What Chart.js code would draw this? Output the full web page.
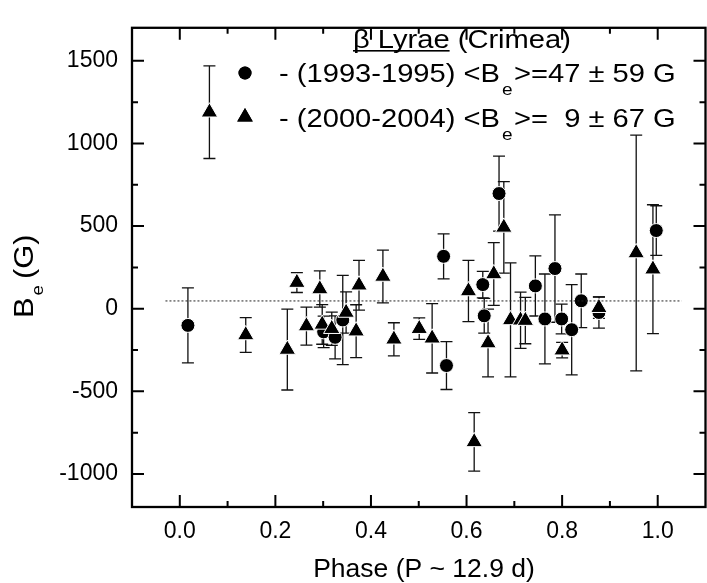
<!DOCTYPE html>
<html>
<head>
<meta charset="utf-8">
<script src="https://cdn.jsdelivr.net/npm/chart.js@4.4.0/dist/chart.umd.min.js"></script>
<style>
  html, body { margin: 0; padding: 0; background: #fff; overflow: hidden; }
  #wrap { width: 716px; height: 583px; }
</style>
</head>
<body>
<div id="wrap"><canvas id="chart" width="716" height="583"></canvas></div>
<script>
// 1993-1995 observations (circles)
const phaseA = [0.017, 0.301, 0.325, 0.341, 0.552, 0.558, 0.634, 0.637, 0.668, 0.744, 0.764, 0.785, 0.799, 0.820, 0.840, 0.877, 0.997];
const beA    = [-101, -140, -173, -68, 317, -344, 146, -43, 697, 138, -62, 243, -62, -127, 48, -23, 473];
const errA   = [227, 95, 130, 270, 136, 145, 80, 105, 227, 182, 272, 325, 90, 273, 162, 95, 150];

// 2000-2004 observations (triangles)
const phaseB = [0.062, 0.138, 0.225, 0.245, 0.265, 0.293, 0.298, 0.318, 0.348, 0.369, 0.375, 0.425, 0.448, 0.501, 0.528, 0.604, 0.616, 0.645, 0.657, 0.678, 0.692, 0.713, 0.723, 0.800, 0.877, 0.955, 0.990];
const beB    = [1189, -159, -247, 158, -105, 119, -95, -121, -23, -136, 142, 195, -185, -121, -179, 107, -806, -208, 210, 492, -68, -70, -72, -251, 6, 337, 239];
const errB   = [280, 105, 245, 60, 115, 110, 120, 100, 125, 160, 150, 160, 100, 65, 210, 185, 177, 205, 190, 277, 345, 170, 140, 47, 65, 713, 390];

// mean field of 1993-1995 set (dotted line)
const meanBe = 47;
const meanPhase = [-0.03, 1.05];

const xTicks = [0, 0.2, 0.4, 0.6, 0.8, 1.0];
const xMinor = [0.1, 0.3, 0.5, 0.7, 0.9];
const yTicks = [-1000, -500, 0, 500, 1000, 1500];
const yMinor = [-750, -250, 250, 750, 1250];

const legendTitle = ['β Lyrae', ' (Crimea)'];
const legendRows = [
  { pre: '- (1993-1995) <B', post: '>=47 ± 59 G', style: 'circle' },
  { pre: '- (2000-2004) <B', post: '>=  9 ± 67 G', style: 'triangle' }
];

const FONT = "'Liberation Sans', Arial, sans-serif";

const toPoints = (xs, ys) => xs.map((x, i) => ({ x, y: ys[i] }));

function drawText(ctx, str, x, y, size, sx) {
  ctx.save();
  ctx.font = size + 'px ' + FONT;
  ctx.translate(x, y);
  ctx.scale(sx, 1);
  ctx.fillText(str, 0, 0);
  const w = ctx.measureText(str).width * sx;
  ctx.restore();
  return w;
}

const errorBars = {
  id: 'errorBars',
  beforeDatasetsDraw(chart) {
    const { ctx, scales: { x, y } } = chart;
    ctx.save();
    ctx.strokeStyle = '#111';
    ctx.lineWidth = 1.3;
    chart.data.datasets.forEach(ds => {
      if (!ds.errors) return;
      ds.data.forEach((p, i) => {
        const px = x.getPixelForValue(p.x);
        const top = y.getPixelForValue(p.y + ds.errors[i]);
        const bot = y.getPixelForValue(p.y - ds.errors[i]);
        ctx.beginPath();
        ctx.moveTo(px, top); ctx.lineTo(px, bot);
        ctx.moveTo(px - 6, top); ctx.lineTo(px + 6, top);
        ctx.moveTo(px - 6, bot); ctx.lineTo(px + 6, bot);
        ctx.stroke();
      });
    });
    ctx.restore();
  }
};

const frame = {
  id: 'frame',
  afterDatasetsDraw(chart) {
    const { ctx, chartArea: a, scales: { x, y } } = chart;
    ctx.save();
    ctx.strokeStyle = '#000';
    ctx.lineWidth = 2.3;
    ctx.strokeRect(a.left, a.top, a.right - a.left, a.bottom - a.top);
    ctx.lineWidth = 2;
    ctx.beginPath();
    const xt = (vals, len) => vals.forEach(v => {
      const px = x.getPixelForValue(v);
      ctx.moveTo(px, a.bottom); ctx.lineTo(px, a.bottom - len);
      ctx.moveTo(px, a.top); ctx.lineTo(px, a.top + len);
    });
    const yt = (vals, len) => vals.forEach(v => {
      const py = y.getPixelForValue(v);
      ctx.moveTo(a.left, py); ctx.lineTo(a.left + len, py);
      ctx.moveTo(a.right, py); ctx.lineTo(a.right - len, py);
    });
    xt(xTicks, 12); xt(xMinor, 6);
    yt(yTicks, 12); yt(yMinor, 6);
    ctx.stroke();
    ctx.restore();
  }
};

const labels = {
  id: 'labels',
  afterDraw(chart) {
    const { ctx } = chart;
    ctx.save();
    ctx.fillStyle = '#000';
    ctx.textBaseline = 'alphabetic';

    // x axis title
    ctx.font = '25px ' + FONT;
    const xt = 'Phase (P ~ 12.9 d)';
    const xw = ctx.measureText(xt).width * 1.06;
    drawText(ctx, xt, 424 - xw / 2, 577, 25, 1.06);

    // y axis title, rotated
    ctx.save();
    ctx.translate(33, 318);
    ctx.rotate(-Math.PI / 2);
    let w = drawText(ctx, 'B', 0, 0, 28, 1.1);
    drawText(ctx, 'e', w + 2, 10, 17, 1.1);
    drawText(ctx, ' (G)', w + 10, 0, 28, 1.1);
    ctx.restore();

    // legend title with underline
    const tx = 353, ty = 47.5;
    w = drawText(ctx, legendTitle[0], tx, ty, 26, 1.12);
    ctx.fillRect(tx, ty + 2.5, w, 1.6);
    drawText(ctx, legendTitle[1], tx + w, ty, 26, 1.12);

    // legend rows
    const rowY = [82, 126.5];
    const markY = [73, 117];
    legendRows.forEach((r, i) => {
      Chart.helpers.drawPoint(ctx, {
        pointStyle: r.style,
        radius: r.style === 'circle' ? 6.5 : 9,
        rotation: 0,
        borderWidth: 0
      }, 245, markY[i]);
      ctx.fill();
      const x0 = 279;
      const w1 = drawText(ctx, r.pre, x0, rowY[i], 26, 1.12);
      drawText(ctx, 'e', x0 + w1 + 2, rowY[i] + 13, 17, 1.12);
      drawText(ctx, r.post, x0 + w1 + 14, rowY[i], 26, 1.12);
    });
    ctx.restore();
  }
};

new Chart(document.getElementById('chart'), {
  type: 'scatter',
  data: {
    datasets: [
      {
        type: 'line',
        data: toPoints(meanPhase, [meanBe, meanBe]),
        borderColor: '#222',
        borderWidth: 1,
        borderDash: [2, 2],
        pointRadius: 0
      },
      {
        data: toPoints(phaseB, beB),
        errors: errB,
        pointStyle: 'triangle',
        pointRadius: 9.5,
        backgroundColor: '#000',
        borderColor: '#fff',
        borderWidth: 1
      },
      {
        data: toPoints(phaseA, beA),
        errors: errA,
        pointStyle: 'circle',
        pointRadius: 7,
        backgroundColor: '#000',
        borderColor: '#fff',
        borderWidth: 1
      }
    ]
  },
  options: {
    responsive: false,
    animation: false,
    layout: { padding: { top: 9, right: 4, left: 0, bottom: 0 } },
    plugins: { legend: { display: false }, tooltip: { enabled: false } },
    scales: {
      x: {
        type: 'linear',
        min: -0.1,
        max: 1.1,
        afterBuildTicks: s => { s.ticks = xTicks.map(v => ({ value: v })); },
        afterFit: s => { s.height = 76; },
        grid: { display: false, drawTicks: false },
        border: { display: false },
        ticks: {
          padding: 11,
          color: '#000',
          font: { family: FONT, size: 23 },
          callback: v => v.toFixed(1)
        }
      },
      y: {
        type: 'linear',
        min: -1200,
        max: 1700,
        afterBuildTicks: s => { s.ticks = yTicks.map(v => ({ value: v })); },
        afterFit: s => { s.width = 132; },
        grid: { display: false, drawTicks: false },
        border: { display: false },
        ticks: {
          padding: 14,
          color: '#000',
          font: { family: FONT, size: 23 },
          callback: v => String(v)
        }
      }
    }
  },
  plugins: [errorBars, frame, labels]
});
</script>
</body>
</html>
